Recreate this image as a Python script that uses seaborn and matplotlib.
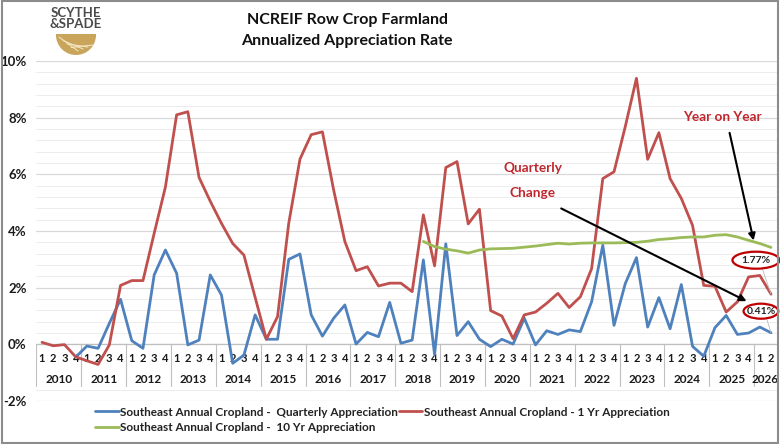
import numpy as np
import pandas as pd
import matplotlib
matplotlib.use("Agg")
import matplotlib.pyplot as plt
from matplotlib.patches import Ellipse, Wedge, Rectangle
import seaborn as sns

# data, quarters 2010Q1 .. 2026Q2
years = [str(y) for y in range(2010, 2027)]
quarters_per_year = [4] * 16 + [2]

quarterly = [np.nan, np.nan, np.nan, -0.45,
             -0.06, -0.14, 0.74, 1.59,
             0.13, -0.14, 2.45, 3.33,
             2.51, -0.02, 0.15, 2.45,
             1.74, -0.67, -0.38, 1.04,
             0.18, 0.18, 3.00, 3.19,
             1.04, 0.29, 0.92, 1.39,
             0.01, 0.42, 0.27, 1.48,
             0.04, 0.15, 2.98, -0.36,
             3.55, 0.31, 0.80, 0.18,
             -0.08, 0.18, 0.01, 0.92,
             -0.02, 0.48, 0.35, 0.51,
             0.45, 1.50, 3.50, 0.67,
             2.14, 3.06, 0.61, 1.65,
             0.55, 2.11, -0.07, -0.42,
             0.59, 1.02, 0.35, 0.40,
             0.61, 0.41]

one_yr = [0.07, -0.05, -0.01, -0.44,
          -0.58, -0.71, -0.02, 2.08,
          2.25, 2.25, 3.92, 5.55,
          8.10, 8.21, 5.89, 5.05,
          4.27, 3.56, 3.15, 1.66,
          0.18, 0.98, 4.28, 6.54,
          7.40, 7.50, 5.45, 3.63,
          2.60, 2.74, 2.06, 2.16,
          2.16, 1.86, 4.57, 2.77,
          6.24, 6.45, 4.25, 4.77,
          1.19, 1.00, 0.20, 1.04,
          1.14, 1.45, 1.80, 1.30,
          1.68, 2.67, 5.85, 6.09,
          7.68, 9.39, 6.53, 7.47,
          5.85, 5.15, 4.20, 2.08,
          2.05, 1.14, 1.50, 2.38,
          2.43, 1.77]

ten_yr = [np.nan] * 34 + [3.63, 3.45,
                          3.36, 3.30, 3.22, 3.33,
                          3.37, 3.38, 3.39, 3.43,
                          3.47, 3.52, 3.57, 3.54,
                          3.57, 3.58, 3.58, 3.58,
                          3.59, 3.60, 3.64, 3.70,
                          3.73, 3.77, 3.79, 3.79,
                          3.85, 3.87, 3.79, 3.67,
                          3.56, 3.42]

labels = ["Southeast Annual Cropland -  Quarterly Appreciation",
          "Southeast Annual Cropland - 1 Yr Appreciation",
          "Southeast Annual Cropland -  10 Yr Appreciation"]
colors = ["#4F81BD", "#C0504D", "#9BBB59"]

sns.set_style("white")
plt.rcParams["font.family"] = ["Lato", "DejaVu Sans"]

idx = np.arange(len(one_yr))
df = pd.DataFrame({"q": idx, labels[0]: quarterly, labels[1]: one_yr, labels[2]: ten_yr})

fig = plt.figure(figsize=(7.8, 4.44), dpi=100)
ax = fig.add_axes([0.0467, 0.0968, 0.949, 0.7658])

handles = []
for lab, col in zip(labels, colors):
    sub = df[["q", lab]].dropna()
    sns.lineplot(data=sub, x="q", y=lab, color=col, linewidth=2.0, ax=ax, zorder=5)
    handles.append(ax.lines[-1])

ax.set_xlim(-0.5, len(idx) - 0.5)
ax.set_ylim(-2, 10)
ax.set_yticks(np.arange(-2, 11, 2))
ax.set_yticklabels([f"{v}%" for v in range(-2, 11, 2)], fontsize=9.5, fontweight="bold", color="#1a1a1a")
ax.set_yticks(np.arange(-2, 10.01, 0.4), minor=True)
ax.tick_params(axis="y", which="both", length=0, pad=7)
ax.set_xticks([])
ax.set_xlabel("")
ax.set_ylabel("")
ax.grid(axis="y", which="major", color="#d9d9d9", linewidth=0.9)
ax.grid(axis="y", which="minor", color="#ececec", linewidth=0.7)
ax.set_axisbelow(True)
for s in ax.spines.values():
    s.set_visible(False)

# category axis box at 0%
ax.add_patch(Rectangle((-0.5, -1.48), len(idx), 1.48, facecolor="white", edgecolor="none", zorder=1.5))
ax.axhline(0, color="#bfbfbf", linewidth=0.9, zorder=2)
pos = 0
for yr, nq in zip(years, quarters_per_year):
    ax.plot([pos - 0.5, pos - 0.5], [0, -1.48], color="#bfbfbf", linewidth=0.8, zorder=2)
    for q in range(nq):
        ax.text(pos + q, -0.49, str(q + 1), ha="center", va="center", fontsize=8,
                fontweight="bold", color="#1a1a1a", zorder=3)
    ax.text(pos + (nq - 1) / 2, -1.24, yr, ha="center", va="center", fontsize=8.5,
            fontweight="bold", color="#1a1a1a", zorder=3)
    pos += nq

# annotations
red_txt = "#C0262D"
ax.text(60.7, 8.02, "Year on Year", ha="center", va="center", fontsize=9.8,
        fontweight="bold", color=red_txt, zorder=6)
ax.text(43.75, 6.22, "Quarterly", ha="center", va="center", fontsize=9.8,
        fontweight="bold", color=red_txt, zorder=6)
ax.text(43.75, 5.34, "Change", ha="center", va="center", fontsize=9.8,
        fontweight="bold", color=red_txt, zorder=6)
ax.annotate("", xy=(63.5, 3.57), xytext=(61.25, 7.56),
            arrowprops=dict(arrowstyle="-|>", color="black", lw=1.5, mutation_scale=10), zorder=7)
ax.annotate("", xy=(63.04, 1.48), xytext=(46.07, 4.84),
            arrowprops=dict(arrowstyle="-|>", color="black", lw=1.5, mutation_scale=10), zorder=7)

ax.plot([64.2, 65.0], [2.7, one_yr[-1]], color="#bbbbbb", linewidth=0.6, zorder=6)
ax.plot([64.6, 65.0], [0.92, quarterly[-1]], color="#bbbbbb", linewidth=0.6, zorder=6)
ax.add_patch(Ellipse((63.66, 2.97), 4.2, 0.6, facecolor="white", edgecolor="#C00000",
                     linewidth=1.6, zorder=8, clip_on=False))
ax.text(63.66, 2.97, f"{one_yr[-1]:.2f}%", ha="center", va="center", fontsize=7.5,
        fontweight="bold", color="#222222", zorder=9, clip_on=False)
ax.add_patch(Ellipse((64.1, 1.17), 3.1, 0.53, facecolor="white", edgecolor="#C00000",
                     linewidth=1.6, zorder=8, clip_on=False))
ax.text(64.1, 1.17, f"{quarterly[-1]:.2f}%", ha="center", va="center", fontsize=7.5,
        fontweight="bold", color="#222222", zorder=9, clip_on=False)

# title
fig.text(0.445, 0.955, "NCREIF Row Crop Farmland", ha="center", va="center",
         fontsize=11.5, fontweight="bold", color="#111111")
fig.text(0.445, 0.908, "Annualized Appreciation Rate", ha="center", va="center",
         fontsize=11.5, fontweight="bold", color="#111111")

# legend
fig.legend([handles[0], handles[2], handles[1]], [labels[0], labels[2], labels[1]],
           ncol=2, loc="center", bbox_to_anchor=(0.49, 0.055), frameon=False,
           prop={"size": 8.5, "weight": "bold"}, handlelength=2.0, handletextpad=0.1,
           columnspacing=0.1, labelspacing=0.35, labelcolor="#222222")

# logo
lax = fig.add_axes([46 / 780, 1 - 58 / 444, 60 / 780, 54 / 444])
lax.set_xlim(0, 60)
lax.set_ylim(0, 54)
lax.axis("off")
gold = "#C9A55C"
lax.add_patch(Wedge((30, 23), 20, 180, 360, facecolor=gold, edgecolor="none"))
lax.add_patch(Rectangle((10, 21), 40, 3, facecolor=gold, edgecolor="none"))
for k in range(4):
    lax.plot([13 + k * 4, 32 + k * 5], [21 - k * 3.5, 7 + k * 2], color="#f3e3bd", linewidth=0.8)
lax.text(30, 45, "SCYTHE", ha="center", va="center", fontsize=9.5, fontweight="bold", color="#4a4a4a")
lax.text(30, 34, "&SPADE", ha="center", va="center", fontsize=9.5, fontweight="bold", color="#4a4a4a")

# chart border
fig.add_artist(Rectangle((0.002, 0.003), 0.996, 0.994, transform=fig.transFigure,
                         fill=False, edgecolor="#8c8c8c", linewidth=1.5))

fig.savefig("out.png", dpi=100)
